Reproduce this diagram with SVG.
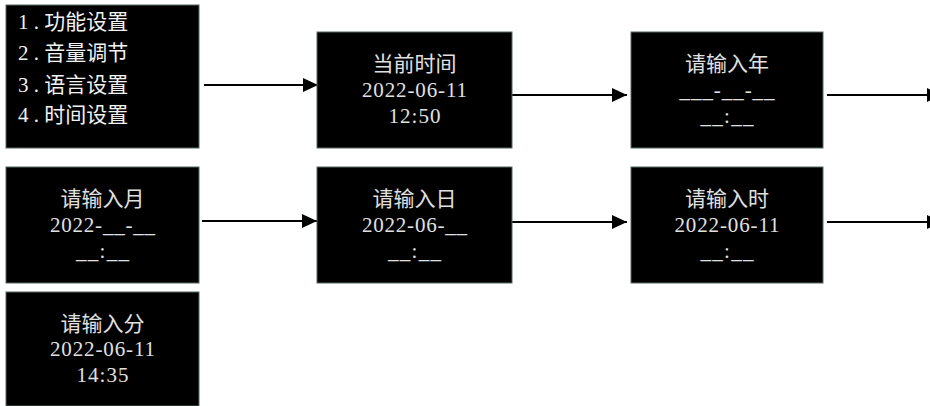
<svg xmlns="http://www.w3.org/2000/svg" width="930" height="406" viewBox="0 0 930 406">
<style>
.box{fill:#000;stroke:#56695c;stroke-width:1}
.t{font-family:"Liberation Serif","Noto Sans CJK SC",serif;font-size:21px;fill:#e0e0e0;text-anchor:middle}
.m{font-family:"Liberation Serif","Noto Sans CJK SC",serif;font-size:21px;fill:#f2f2f2}
.c{stroke:#000;stroke-width:2;fill:none;marker-end:url(#ah)}
</style>
<defs>
<marker id="ah" markerWidth="16" markerHeight="14" refX="15" refY="7" orient="auto" markerUnits="userSpaceOnUse">
<path d="M0,0 L15,7 L0,14 Z" fill="#000"/>
</marker>
</defs>
<rect width="930" height="406" fill="#fff"/>
<g id="connectors">
<line class="c" x1="204" y1="85" x2="318" y2="85"/>
<line class="c" x1="512" y1="95" x2="627" y2="95"/>
<line class="c" x1="827" y1="95" x2="942" y2="95"/>
<line class="c" x1="202" y1="221" x2="317" y2="221"/>
<line class="c" x1="512" y1="222" x2="627" y2="222"/>
<line class="c" x1="827" y1="222" x2="942" y2="222"/>
</g>
<g id="menu">
<rect class="box" x="6" y="5" width="193" height="143"/>
<text class="m" x="18" y="29"><tspan textLength="21">1.</tspan>功能设置</text>
<text class="m" x="18" y="60"><tspan textLength="21">2.</tspan>音量调节</text>
<text class="m" x="18" y="92"><tspan textLength="21">3.</tspan>语言设置</text>
<text class="m" x="18" y="122"><tspan textLength="21">4.</tspan>时间设置</text>
</g>
<g id="current">
<rect class="box" x="317" y="32" width="195" height="116"/>
<text class="t" x="414.5" y="71">当前时间</text>
<text class="t" x="414.5" y="97" textLength="105">2022-06-11</text>
<text class="t" x="414.5" y="123" textLength="52">12:50</text>
</g>
<g id="year">
<rect class="box" x="631" y="32" width="192" height="116"/>
<text class="t" x="727" y="71">请输入年</text>
<text class="t" x="727" y="97" textLength="95">___-__-__</text>
<text class="t" x="727" y="123" textLength="53">__:__</text>
</g>
<g id="month">
<rect class="box" x="6" y="167" width="193" height="116"/>
<text class="t" x="102.5" y="206">请输入月</text>
<text class="t" x="102.5" y="232" textLength="105">2022-__-__</text>
<text class="t" x="102.5" y="258" textLength="53">__:__</text>
</g>
<g id="day">
<rect class="box" x="317" y="167" width="195" height="116"/>
<text class="t" x="414.5" y="206">请输入日</text>
<text class="t" x="414.5" y="232" textLength="105">2022-06-__</text>
<text class="t" x="414.5" y="258" textLength="53">__:__</text>
</g>
<g id="hour">
<rect class="box" x="631" y="167" width="192" height="116"/>
<text class="t" x="727" y="206">请输入时</text>
<text class="t" x="727" y="232" textLength="105">2022-06-11</text>
<text class="t" x="727" y="258" textLength="53">__:__</text>
</g>
<g id="minute">
<rect class="box" x="6" y="292" width="193" height="114"/>
<text class="t" x="102.5" y="331">请输入分</text>
<text class="t" x="102.5" y="356" textLength="105">2022-06-11</text>
<text class="t" x="102.5" y="382" textLength="52">14:35</text>
</g>
</svg>
